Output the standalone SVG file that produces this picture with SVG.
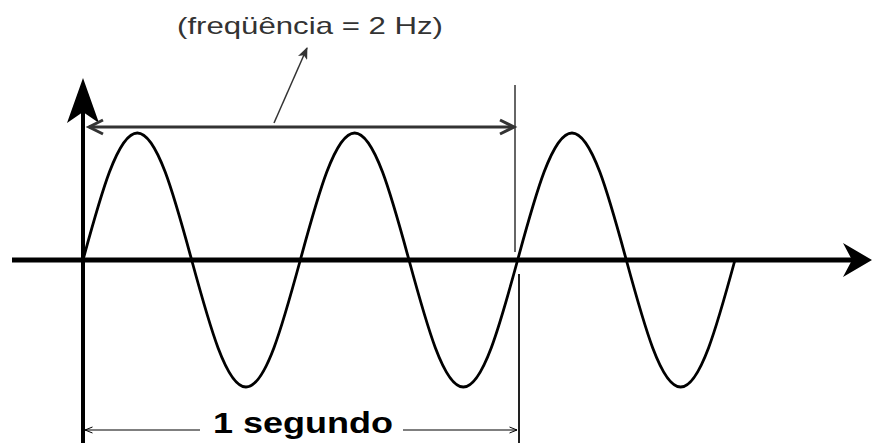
<svg xmlns="http://www.w3.org/2000/svg" width="881" height="443" viewBox="0 0 881 443">
<style>
.lbl{font-family:"Liberation Sans",Arial,sans-serif;}
.axis{stroke:#000;fill:none;}
.dim{stroke:#333;fill:none;}
</style>
<defs>
<marker id="ptr" markerWidth="12" markerHeight="10" refX="11" refY="5" orient="auto" markerUnits="userSpaceOnUse">
<path d="M0,0 L12,5 L0,10 L3,5 Z" fill="#333"/>
</marker>
<marker id="small" markerWidth="9" markerHeight="8" refX="8.5" refY="4" orient="auto-start-reverse" markerUnits="userSpaceOnUse">
<path d="M1,1 L8.5,4 L1,7" fill="none" stroke="#000" stroke-width="1"/>
</marker>
</defs>
<rect width="881" height="443" fill="#fff"/>
<g id="axes">
<line class="axis" x1="12" y1="260" x2="855" y2="260" stroke-width="5"/>
<path d="M872,260 L843,243 L852,260 L843,277 Z" fill="#000"/>
<line class="axis" x1="83" y1="105" x2="83" y2="443" stroke-width="4"/>
<path d="M83,78 L67,123 L83,112 L99,123 Z" fill="#000"/>
</g>
<g id="wave">
<path d="M83,260 c17.72,-65.06 34.67,-127 54.33,-127 c19.66,0 36.61,61.94 54.33,127 c17.72,65.06 34.67,127 54.33,127 c19.66,0 36.61,-61.94 54.33,-127 c17.72,-65.06 34.67,-127 54.33,-127 c19.66,0 36.61,61.94 54.33,127 c17.72,65.06 34.67,127 54.33,127 c19.66,0 36.61,-61.94 54.33,-127 c17.72,-65.06 34.67,-127 54.33,-127 c19.66,0 36.61,61.94 54.33,127 c17.72,65.06 34.67,127 54.33,127 c19.66,0 36.61,-61.94 54.33,-127" fill="none" stroke="#000" stroke-width="2.8"/>
</g>
<g id="connectors">
<line class="dim" x1="515" y1="85" x2="515" y2="252" stroke-width="1.5"/>
<line x1="519" y1="274" x2="519" y2="443" stroke="#222" stroke-width="2"/>
<line class="dim" x1="89" y1="127" x2="513" y2="127" stroke-width="3"/>
<path class="dim" d="M103,120 L89,127 L103,134" stroke-width="3"/>
<path class="dim" d="M500,120 L514,127 L500,134" stroke-width="3"/>
<line class="dim" x1="274" y1="123" x2="307" y2="48" stroke-width="1.5" marker-end="url(#ptr)"/>
<line x1="200" y1="430" x2="85" y2="430" stroke="#000" stroke-width="1.2" marker-end="url(#small)"/>
<line x1="403" y1="430" x2="517" y2="430" stroke="#000" stroke-width="1.2" marker-end="url(#small)"/>
</g>
<g id="label-freq">
<text class="lbl" x="177" y="34" font-size="24" fill="#333" textLength="266" lengthAdjust="spacingAndGlyphs">(freqüência = 2 Hz)</text>
</g>
<g id="label-segundo">
<text class="lbl" x="213" y="433" font-size="29" font-weight="bold" fill="#000" textLength="180" lengthAdjust="spacingAndGlyphs">1 segundo</text>
</g>
</svg>
